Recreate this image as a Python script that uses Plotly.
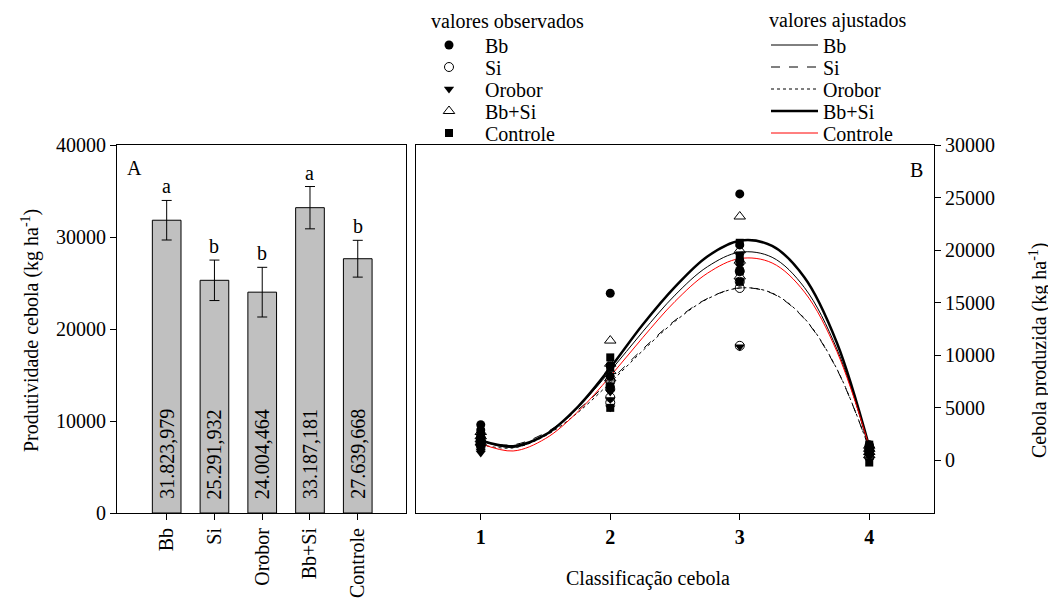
import plotly.graph_objects as go

FONT = "'Liberation Serif', 'Times New Roman', Times, serif"

# ---------------- Panel A data ----------------
treatments = ["Bb", "Si", "Orobor", "Bb+Si", "Controle"]
yield_mean = [31823.979, 25291.932, 24004.464, 33187.181, 27639.668]
yield_err = [2150, 2200, 2700, 2300, 2000]
letters = ["a", "b", "b", "a", "b"]

# ---------------- Panel B data ----------------
class_ticks = [1, 2, 3, 4]
obs_x = [1, 1, 1, 1, 2, 2, 2, 2, 3, 3, 3, 3, 4, 4, 4, 4]
obs_bb = [3400, 2900, 2500, 2200, 15900, 9000, 8000, 7000, 25350, 20500, 19000, 18000, 1500, 1200, 900, 600]
obs_si = [2100, 1800, 1600, 1400, 7600, 6000, 5500, 6800, 16400, 10900, 17000, 18000, 1300, 1000, 700, 300]
obs_orobor = [1200, 900, 700, 1500, 7200, 6500, 5800, 5000, 10800, 17000, 18500, 19500, 1100, 800, 400, 0]
obs_bbsi = [2700, 2300, 2000, 1700, 11400, 8500, 9200, 7800, 23200, 20000, 19000, 17500, 1400, 1100, 800, 500]
obs_controle = [2400, 2000, 1600, 1300, 9800, 8800, 7000, 5000, 20700, 19500, 18000, 17000, 1500, 1200, 900, -200]

fit_x = [1, 1.25, 1.5, 1.75, 2, 2.25, 2.5, 2.75, 3, 3.25, 3.5, 3.75, 4]
fit_bb = [1900, 1230, 2460, 5060, 8500, 12230, 15720, 18420, 19800, 19320, 16430, 10600, 1300]
fit_si = [1800, 1490, 2630, 4810, 7600, 10580, 13320, 15400, 16400, 15890, 13460, 8660, 1100]
fit_orobor = [1500, 1190, 2350, 4560, 7400, 10430, 13230, 15360, 16400, 15920, 13500, 8700, 1100]
fit_bbsi = [1900, 1350, 2450, 5100, 8800, 12900, 16500, 19400, 20900, 20400, 17400, 11200, 1300]
fit_controle = [1600, 900, 2080, 4630, 8000, 11670, 15120, 17800, 19200, 18780, 16010, 10360, 1300]

# page body has an 8px margin; figure fills the rest of the 1056x601 window
OFF = 8
W, H = 1056 - OFF, 601 - OFF


def px_x(p):
    return (p - OFF) / W


def px_y(p):
    return 1 - (p - OFF) / H


def br_fmt(v):
    s = f"{v:,.3f}"
    return s.replace(",", "X").replace(".", ",").replace("X", ".")


def tfont(size=20, bold=False):
    return dict(family=FONT, size=size, color="black", weight="bold" if bold else "normal")


fig = go.Figure()

# Panel A bars
fig.add_trace(go.Bar(
    x=treatments, y=yield_mean, width=0.6,
    marker=dict(color="#c0c0c0", line=dict(color="black", width=1)),
    error_y=dict(type="data", array=yield_err, color="black", thickness=1, width=5),
    xaxis="x", yaxis="y", showlegend=False, hoverinfo="skip",
))

for t, m, e, l in zip(treatments, yield_mean, yield_err, letters):
    fig.add_annotation(x=t, y=m + e, xref="x", yref="y", text=l, showarrow=False,
                       yanchor="bottom", yshift=1, font=tfont())
    fig.add_annotation(x=t, y=0, xref="x", yref="y", text=br_fmt(m), showarrow=False,
                       textangle=-90, yanchor="bottom", yshift=12, font=tfont())

# Panel B
obs_specs = [
    ("Bb", obs_bb, dict(symbol="circle", size=9, color="black")),
    ("Si", obs_si, dict(symbol="circle-open", size=9, color="black", line=dict(width=1, color="black"))),
    ("Orobor", obs_orobor, dict(symbol="triangle-down", size=9, color="black")),
    ("Bb+Si", obs_bbsi, dict(symbol="triangle-up-open", size=10, color="black", line=dict(width=1, color="black"))),
    ("Controle", obs_controle, dict(symbol="square", size=8, color="black")),
]
fit_specs = [
    ("Bb", fit_bb, dict(color="black", width=1, dash="solid")),
    ("Si", fit_si, dict(color="black", width=1, dash="dash")),
    ("Orobor", fit_orobor, dict(color="black", width=1, dash="dot")),
    ("Bb+Si", fit_bbsi, dict(color="black", width=2.5, dash="solid")),
    ("Controle", fit_controle, dict(color="red", width=1, dash="solid")),
]

row_y = [45, 67, 89, 111, 133]

legend_layout = {}
n = 1
for i, (name, vals, line) in enumerate(fit_specs):
    key = "legend" if n == 1 else f"legend{n}"
    fig.add_trace(go.Scatter(x=fit_x, y=vals, mode="lines", name=name,
                             line=dict(shape="spline", smoothing=1.0, **line),
                             xaxis="x2", yaxis="y2", legend=key, hoverinfo="skip"))
    legend_layout[key] = dict(x=px_x(766), y=px_y(row_y[i]), xanchor="left", yanchor="middle",
                              xref="container", yref="container",
                              bgcolor="rgba(0,0,0,0)", itemwidth=47, font=tfont())
    n += 1

for i, (name, vals, marker) in enumerate(obs_specs):
    key = f"legend{n}"
    fig.add_trace(go.Scatter(x=obs_x, y=vals, mode="markers", name=name, marker=marker,
                             xaxis="x2", yaxis="y2", legend=key, hoverinfo="skip"))
    legend_layout[key] = dict(x=px_x(413), y=px_y(row_y[i]), xanchor="left", yanchor="middle",
                              xref="container", yref="container",
                              bgcolor="rgba(0,0,0,0)", itemwidth=62, font=tfont())
    n += 1


def text_at(x, y, text, xanchor="center", yanchor="middle", angle=0, pad=1):
    fig.add_annotation(x=px_x(x), y=px_y(y), xref="paper", yref="paper", text=text,
                       showarrow=False, xanchor=xanchor, yanchor=yanchor, textangle=angle,
                       borderpad=pad, font=tfont())


text_at(430, 21, "valores observados", xanchor="left", pad=0)
text_at(768, 21, "valores ajustados", xanchor="left", pad=0)
text_at(125, 168, "A", xanchor="left")
text_at(925, 170, "B", xanchor="right")
# axis titles
text_at(30, 331, "Produtividade cebola (kg ha<sup>-1</sup>)", angle=-90)
text_at(1038, 350, "Cebola produzida (kg ha<sup>-1</sup>)", angle=-90)
text_at(648, 578, "Classificação cebola")

axis_common = dict(showline=True, linecolor="black", linewidth=1, mirror=True,
                   ticks="outside", ticklen=6, tickwidth=1, tickcolor="black",
                   showgrid=False, zeroline=False, automargin=False)

ydom = [px_y(513), px_y(145)]

fig.update_layout(
    width=W, height=H, autosize=False,
    margin=dict(l=0, r=0, t=0, b=0, pad=0, autoexpand=False),
    paper_bgcolor="white", plot_bgcolor="white",
    font=tfont(),
    xaxis=dict(domain=[px_x(117), px_x(406)], range=[-1.04, 5.01], tickangle=-90,
               anchor="y", tickfont=tfont(), **axis_common),
    yaxis=dict(domain=ydom, range=[0, 40000], tickvals=[0, 10000, 20000, 30000, 40000],
               tickformat="d", anchor="x", tickfont=tfont(), **axis_common),
    xaxis2=dict(domain=[px_x(416), px_x(934)], range=[0.5, 4.5], tickvals=class_ticks,
                ticktext=[str(v) for v in class_ticks], tickfont=tfont(bold=True), anchor="y2",
                **axis_common),
    yaxis2=dict(domain=ydom, range=[-5000, 30000], tickvals=[0, 5000, 10000, 15000, 20000, 25000, 30000],
                tickformat="d", side="right", anchor="x2", tickfont=tfont(), **axis_common),
    **legend_layout,
)

fig.write_html("out.html")
